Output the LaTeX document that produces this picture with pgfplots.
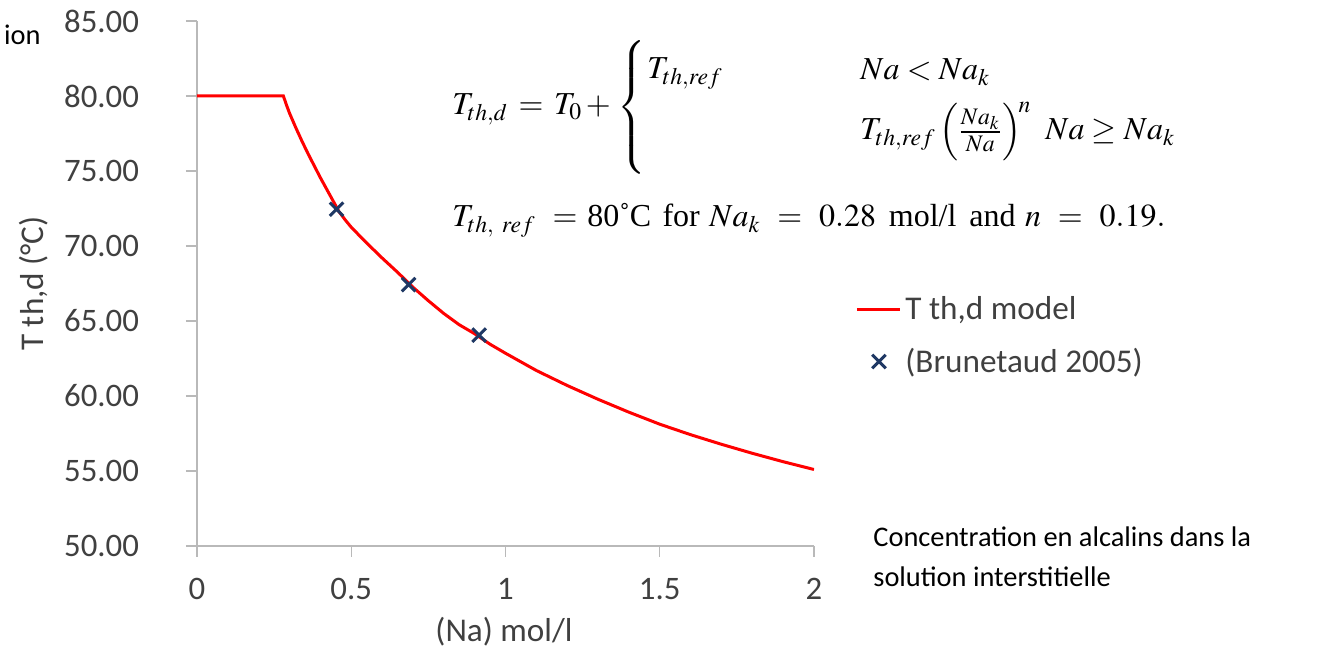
\documentclass[border=0pt]{standalone}
\usepackage{mathptmx}
\usepackage[no-math]{fontspec}
\setmainfont{Carlito}
\newfontfamily\timesfont{Liberation Serif}
\usepackage{pgfplots}
\pgfplotsset{compat=1.18}
\definecolor{axgrey}{RGB}{185,185,185}
\definecolor{tickgrey}{RGB}{64,64,64}
\definecolor{navy}{RGB}{31,56,100}
\pgfplotsset{
  lineleg/.style={legend image code/.code={\draw[##1] (0pt,0pt) -- (21.5pt,0pt);}},
  markleg/.style={legend image code/.code={\path[draw=none, fill=none] (0pt,0pt) -- (21.5pt,0pt); \draw[##1, only marks] plot coordinates {(11pt,0pt)};}},
}
\begin{document}
\begin{tikzpicture}
\begin{axis}[
  scale only axis, width=308.5pt, height=262.5pt,
  xmin=0, xmax=2, ymin=50, ymax=85,
  axis x line*=bottom, axis y line*=left,
  axis line style={draw=axgrey, line width=0.6pt},
  tick style={draw=axgrey, line width=0.6pt},
  tick align=outside, major tick length=5.5pt,
  xtick={0,0.5,1,1.5,2}, ytick={50,55,60,65,70,75,80,85},
  /pgf/number format/assume math mode=true,
  ticklabel style={font=\fontsize{16.4}{19}\selectfont, text=tickgrey},
  yticklabel style={xshift=-20pt, /pgf/number format/.cd, fixed, fixed zerofill, precision=2},
  xticklabel style={yshift=-7pt},
  xlabel={(Na) mol/l},
  ylabel={T th,d (°C)},
  label style={font=\fontsize{16.6}{19}\selectfont, text=tickgrey},
  xlabel style={at={(axis description cs:0.4976,-0.1638)}, anchor=center},
  ylabel style={at={(axis description cs:-0.2642,0.5)}, anchor=center, rotate=0},
  legend cell align=left,
  legend style={draw=none, fill=none, inner sep=0pt, row sep=8.5pt,
    font=\fontsize{16.6}{19}\selectfont, text=tickgrey,
    at={(axis description cs:1.0665,0.483)}, anchor=north west},
]
\addplot[red, line width=1.5pt, lineleg]
  coordinates {(0,80) (0.28,80) (0.29,79.4) (0.30,78.85) (0.32,77.9) (0.34,77.0)
  (0.36,76.15) (0.38,75.35) (0.40,74.55) (0.42,73.8) (0.44,73.05) (0.46,72.3)
  (0.48,71.75) (0.50,71.25) (0.55,70.2) (0.60,69.2) (0.65,68.25) (0.70,67.25)
  (0.75,66.35) (0.80,65.5) (0.85,64.75) (0.90,64.15) (0.95,63.45) (1.00,62.85)
  (1.10,61.7) (1.20,60.7) (1.30,59.78) (1.40,58.92) (1.50,58.12) (1.60,57.42)
  (1.70,56.78) (1.80,56.18) (1.90,55.62) (2.00,55.1)};
\addlegendentry{T th,d model}
\addplot[only marks, mark=x, mark size=4.8pt, navy, mark options={line width=1.5pt}, markleg]
  coordinates {(0.4525,72.45) (0.686,67.42) (0.9146,64.06)};
\addlegendentry{(Brunetaud 2005)}
\end{axis}
% equation
\begin{scope}[every node/.style={font=\fontsize{16}{19}\selectfont\timesfont, inner sep=0pt}]
\node[anchor=base west] at (127.5pt,215.5pt) {$T_{th,d}\,=\,T_0\,+$};
\node at (217.5pt,219.25pt) {\nulldelimiterspace=0pt$\left\{\rule[-29.75pt]{0pt}{59.5pt}\right.$};
\node[anchor=base west] at (225pt,233.5pt) {$T_{th,ref}$};
\node[anchor=base west] at (331.5pt,233pt) {$Na<Na_k$};
\node[anchor=base west] at (331.5pt,203pt) {$T_{th,ref}\left(\frac{Na_k}{Na}\right)^{\!n}$};
\node[anchor=base west] at (424pt,203pt) {$Na\geq Na_k$};
\node[anchor=base west] at (127.5pt,159.5pt) {$T_{th,\ ref}\mskip5.5mu=\mskip5.5mu$80˚C\hspace{0.35em}for\hspace{0.3em}$Na_k\mskip5.5mu=\mskip5.5mu 0.28$\hspace{0.4em}mol/l\hspace{0.4em}and\hspace{0.3em}$n\mskip5.5mu=\mskip5.5mu 0.19.$};
\end{scope}
\node[anchor=base west, inner sep=0pt, font=\fontsize{14.2}{17}\selectfont] at (338pt,-0.5pt) {Concentration en alcalins dans la};
\node[anchor=base west, inner sep=0pt, font=\fontsize{14.2}{17}\selectfont] at (338pt,-20.5pt) {solution interstitielle};
\node[anchor=east, inner sep=0pt, font=\fontsize{14.2}{17}\selectfont] at (-78pt,255.5pt) {ion};
\pgfresetboundingbox
\useasboundingbox (-98.5pt,-55.5pt) rectangle (560pt,273pt);
\end{tikzpicture}
\end{document}
